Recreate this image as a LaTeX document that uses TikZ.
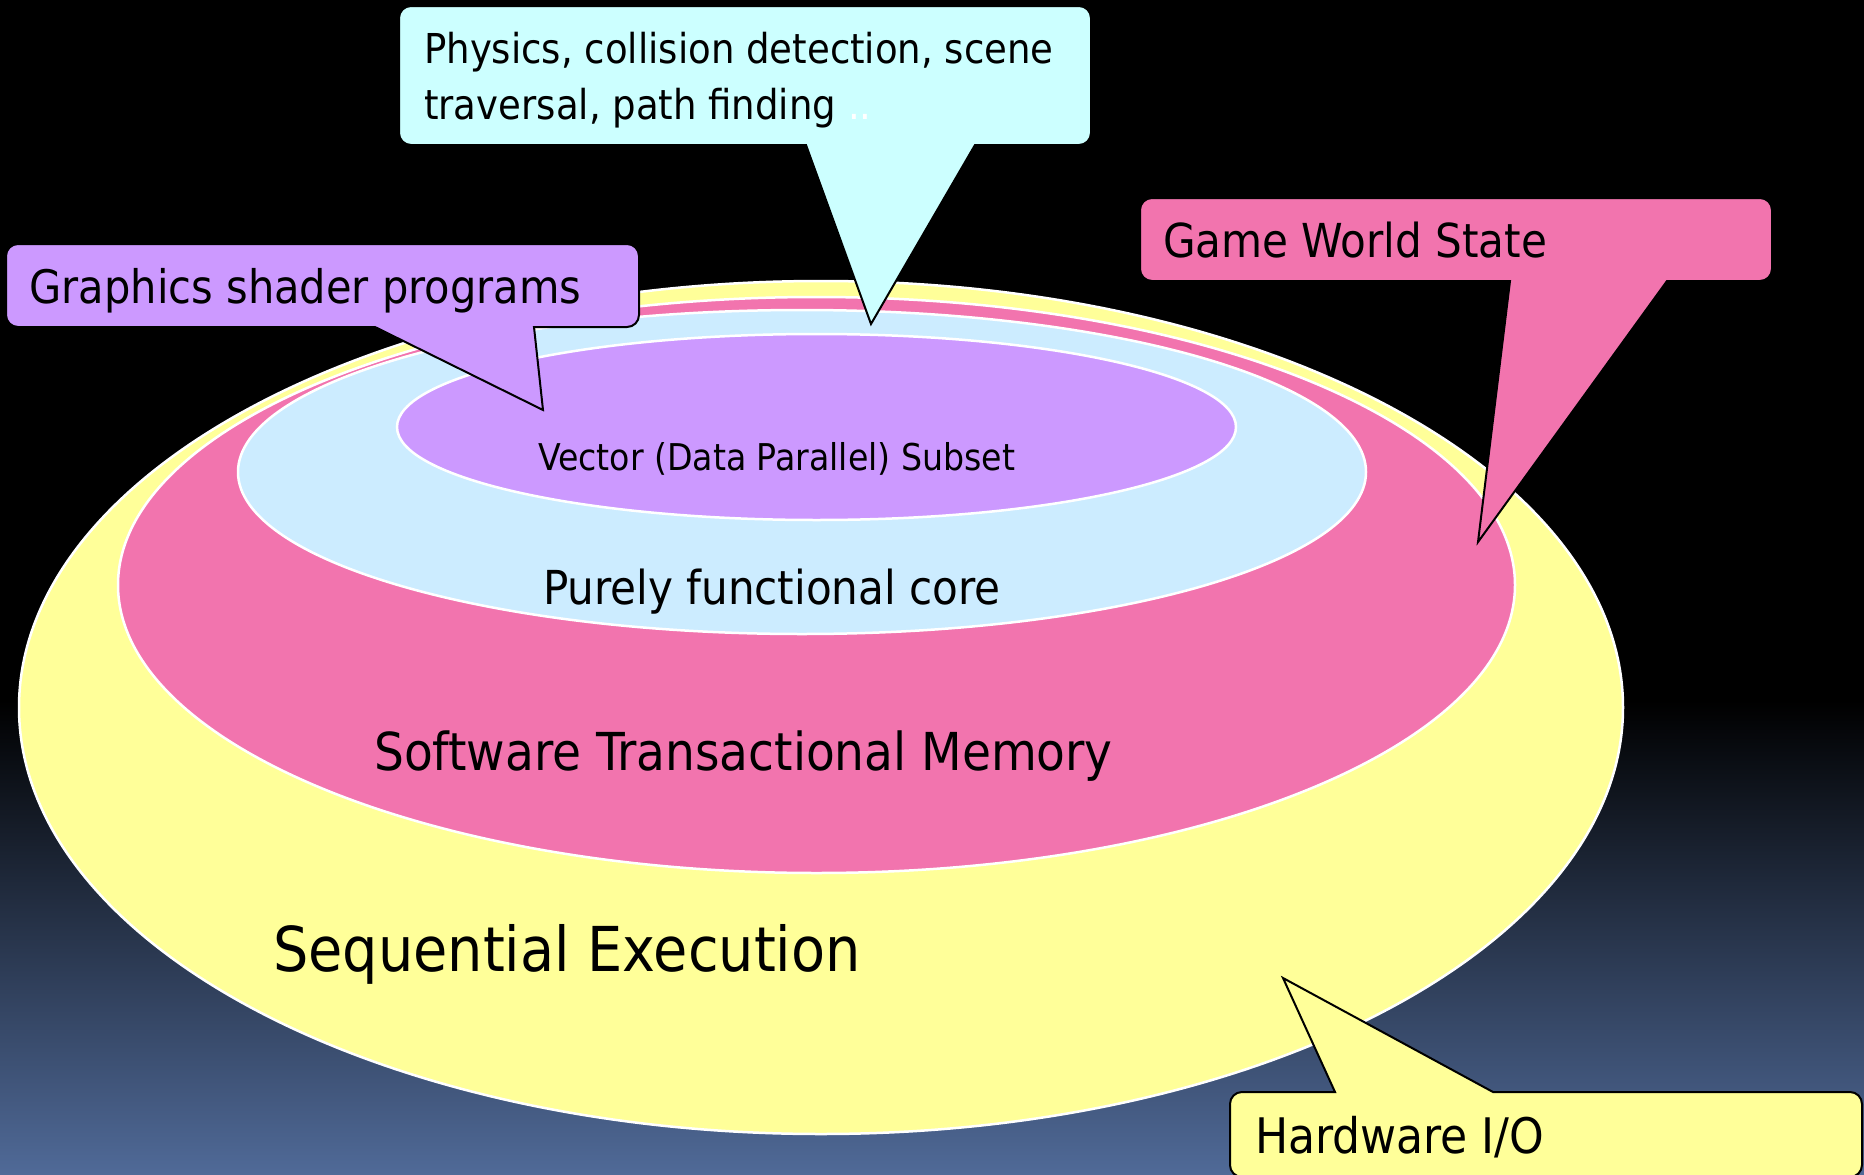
\documentclass[tikz,border=0pt]{standalone}
\usepackage{fontspec}
\setmainfont{DejaVu Sans Condensed}
\definecolor{bgblue}{RGB}{80,106,152}
\definecolor{ylw}{RGB}{255,255,153}
\definecolor{pnk}{RGB}{242,116,174}
\definecolor{lblue}{RGB}{204,236,255}
\definecolor{purp}{RGB}{204,153,255}
\definecolor{cyanbox}{RGB}{204,255,255}
\tikzset{
  layer/.style={draw=white, line width=2.5pt},
  callout/.style={draw=black, line width=2pt, line join=miter},
  lbl/.style={anchor=base west, inner sep=0pt, text=black},
}
\begin{document}
\begin{tikzpicture}[x=1pt,y=-1pt]
\useasboundingbox (0,0) rectangle (1864,1175);
\clip (0,0) rectangle (1864,1175);
% background
\fill[black] (0,0) rectangle (1864,1175);
\shade[top color=black, bottom color=bgblue] (0,700) rectangle (1864,1175);
% layers
\draw[layer, fill=ylw]   (821,707.5) ellipse [x radius=802, y radius=426.5];
\draw[layer, fill=pnk]   (816.5,585) ellipse [x radius=698.5, y radius=288];
\draw[layer, fill=lblue] (802,472) ellipse [x radius=564, y radius=162];
\draw[layer, fill=purp]  (816.5,427) ellipse [x radius=419.5, y radius=93];
% layer labels
\node[lbl, font=\fontsize{36.9}{44}\selectfont] (vec) at (538,470) {Vector (Data Parallel) Subset};
\node[lbl, font=\fontsize{46.8}{56}\selectfont] (pure) at (543,604) {Purely functional core};
\node[lbl, font=\fontsize{52.3}{60}\selectfont] (stm) at (374,770) {Software Transactional Memory};
\node[lbl, font=\fontsize{61.9}{72}\selectfont] (seq) at (273,971) {Sequential Execution};
% callout: physics
\draw[callout, fill=cyanbox] (399,18) arc[start angle=180,end angle=270,radius=12] -- (1079,6)
  arc[start angle=270,end angle=360,radius=12] -- (1091,133)
  arc[start angle=0,end angle=90,radius=12] -- (975,145) -- (871,324) -- (806,145) -- (411,145)
  arc[start angle=90,end angle=180,radius=12] -- cycle;
\node[lbl, font=\fontsize{41.2}{56}\selectfont] (phys1) at (424,63) {Physics, collision detection, scene};
\node[lbl, font=\fontsize{41.2}{56}\selectfont] (phys2) at (424,119) {traversal, path finding {\color{white}..}};
% callout: graphics
\draw[callout, fill=purp] (6,256) arc[start angle=180,end angle=270,radius=12] -- (627,244)
  arc[start angle=270,end angle=360,radius=12] -- (639,315)
  arc[start angle=0,end angle=90,radius=12] -- (534,327) -- (543,410) -- (375,327) -- (18,327)
  arc[start angle=90,end angle=180,radius=12] -- cycle;
\node[lbl, font=\fontsize{46.2}{56}\selectfont] (gfx) at (29.5,303) {Graphics shader programs};
% callout: game world state
\draw[callout, fill=pnk] (1140,210) arc[start angle=180,end angle=270,radius=12] -- (1760,198)
  arc[start angle=270,end angle=360,radius=12] -- (1772,269)
  arc[start angle=0,end angle=90,radius=12] -- (1667,281) -- (1478,542) -- (1510,281) -- (1152,281)
  arc[start angle=90,end angle=180,radius=12] -- cycle;
\node[lbl, font=\fontsize{46.8}{56}\selectfont] (gws) at (1163,257) {Game World State};
% callout: hardware
\draw[callout, fill=ylw] (1230,1104) arc[start angle=180,end angle=270,radius=12] -- (1335,1092)
  -- (1283,978) -- (1493,1092) -- (1850,1092)
  arc[start angle=270,end angle=360,radius=12] -- (1862,1165)
  arc[start angle=0,end angle=90,radius=12] -- (1242,1177)
  arc[start angle=90,end angle=180,radius=12] -- cycle;
\node[lbl, font=\fontsize{49}{56}\selectfont] (hw) at (1255,1153) {Hardware I/O};
\end{tikzpicture}
\end{document}
